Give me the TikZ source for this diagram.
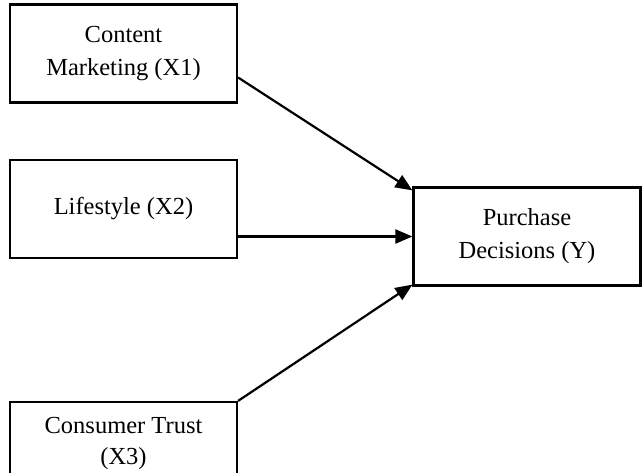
\documentclass[tikz,border=0pt]{standalone}
\usepackage{fontspec}
\setmainfont{Liberation Serif}
\usetikzlibrary{arrows.meta,calc}
\begin{document}
\begin{tikzpicture}[x=1pt,y=-1pt,
  box/.style={draw,line width=2.2pt,minimum width=227pt,minimum height=98pt,
    align=center,inner sep=0pt,font=\fontsize{24.5}{33}\selectfont},
  link/.style={line width=2.2pt,-{Triangle[length=17pt,width=14pt]}}]
\useasboundingbox (0,0) rectangle (644,472);
\clip (0,0) rectangle (644,472);

% independent variables
\node[box] (x1) at (123.5,53.5) {Content\\Marketing (X1)};
\node[box] (x2) at (123.5,209) {Lifestyle (X2)};
\node[box,minimum height=82pt,font=\fontsize{24.5}{31}\selectfont] (x3) at (123.5,443) {Consumer Trust\\(X3)};

% dependent variable
\node[box] (y) at (527,236.5) {Purchase\\Decisions (Y)};

% effects on purchase decisions
\draw[link] ([yshift=-24pt]x1.east) -- ([yshift=-4pt]y.north west);
\draw[link] (x2.east |- y.west) -- (y.west);
\draw[link] (x3.north east) -- ([yshift=2pt]y.south west);
\end{tikzpicture}
\end{document}
